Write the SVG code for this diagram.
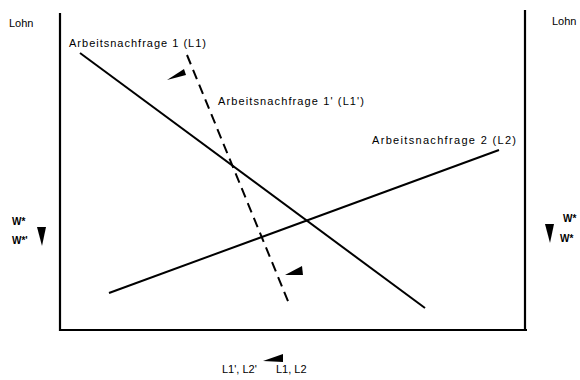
<svg xmlns="http://www.w3.org/2000/svg" width="580" height="380" viewBox="0 0 580 380">
<style>
.ax{stroke:#000;stroke-width:2.2;fill:none}
.ln{stroke:#000;stroke-width:2;fill:none}
.dash{stroke:#000;stroke-width:2;fill:none;stroke-dasharray:10 6}
.t{font-family:"Liberation Sans",Arial,sans-serif;font-size:11px;fill:#000}
.w{font-family:"Liberation Sans",Arial,sans-serif;font-size:10px;font-weight:bold;fill:#000}
.ar{fill:#000;stroke:none}
</style>
<rect width="580" height="380" fill="#fff"/>
<g id="axes">
<path class="ax" d="M60,13 V330 H527"/>
<path class="ax" d="M525,10 V330"/>
</g>
<g id="labels">
<text class="t" x="9" y="27" font-size="10">Lohn</text>
<text class="t" x="552" y="25">Lohn</text>
<text class="w" x="12" y="225">W*</text>
<text class="w" x="12" y="244">W*'</text>
<text class="w" x="563" y="222">W*</text>
<text class="w" x="560" y="242">W*</text>
<text class="t" x="222" y="373">L1', L2'</text>
<text class="t" x="276" y="373">L1, L2</text>
</g>
<g id="connectors">
<line id="L1" class="ln" x1="80" y1="53" x2="425" y2="308"/>
<line id="L2" class="ln" x1="109" y1="293" x2="499" y2="150"/>
<line id="L1p" class="dash" x1="187" y1="55" x2="290" y2="306"/>
</g>
<g id="node-L1">
<text class="t" x="69" y="47" textLength="137" lengthAdjust="spacing">Arbeitsnachfrage 1 (L1)</text>
</g>
<g id="node-L1p">
<text class="t" x="218" y="105" textLength="146" lengthAdjust="spacing">Arbeitsnachfrage 1' (L1')</text>
</g>
<g id="node-L2">
<text class="t" x="372" y="144" textLength="144" lengthAdjust="spacing">Arbeitsnachfrage 2  (L2)</text>
</g>
<g id="arrows">
<polygon class="ar" points="167,80 184,69 186,75"/>
<polygon class="ar" points="285,275 302,266 303,275"/>
<polygon class="ar" points="263,361 283,354 283,362"/>
<polygon class="ar" points="37,227 46,227 42,246"/>
<polygon class="ar" points="545,224 554,224 550,243"/>
</g>
</svg>
